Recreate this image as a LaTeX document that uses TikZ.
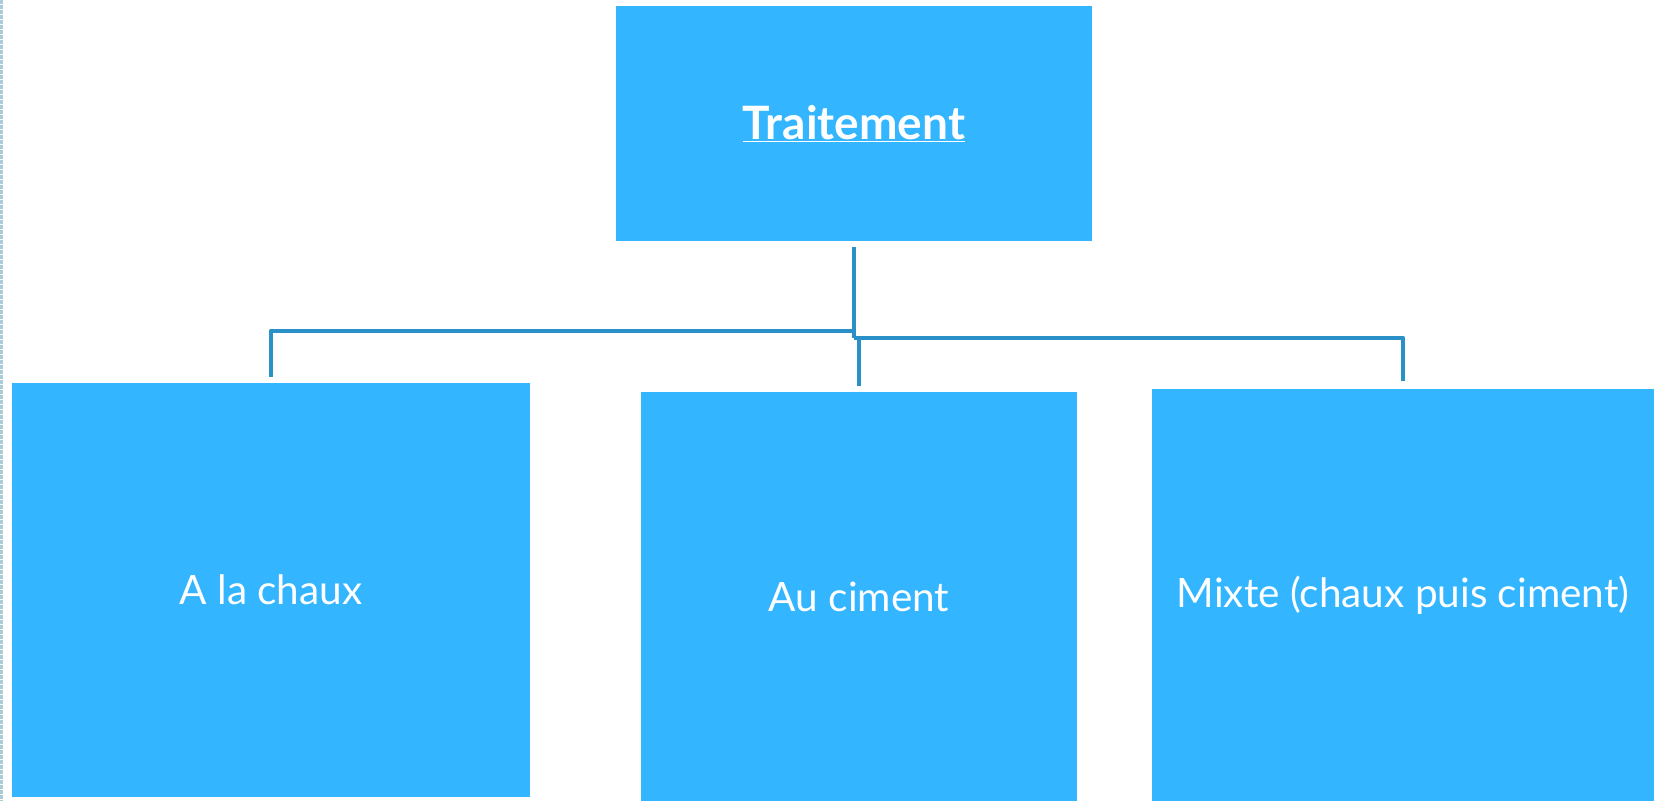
\documentclass[tikz,border=0pt]{standalone}
\usepackage{fontspec}
\setmainfont{Lato}
\definecolor{boxblue}{HTML}{33B5FF}
\definecolor{connblue}{HTML}{2A90C8}
\definecolor{edgegray}{HTML}{A8CCD8}
\begin{document}
\begin{tikzpicture}[x=1pt,y=-1pt,
  box/.style={fill=boxblue, draw=none, inner sep=0pt, text=white, align=center},
  conn/.style={draw=connblue, line width=4.8pt, line join=round},
  lbl/.style={font=\fontsize{40.5}{48}\selectfont}]
\useasboundingbox (0,0) rectangle (1656,801);
\fill[white] (0,0) rectangle (1656,801);
\draw[edgegray, line width=3pt, dash pattern=on 4pt off 1pt] (1.5,0) -- (1.5,801);
\node[box, minimum width=476pt, minimum height=235pt, font=\bfseries\fontsize{46}{54}\selectfont] (top) at (854,123.5) {\underline{Traitement}};
\node[box, lbl, minimum width=518pt, minimum height=414pt] (left) at (271,590) {A la chaux};
\node[box, lbl, minimum width=436pt, minimum height=409pt] (mid) at (859,596.5) {Au ciment};
\node[box, lbl, minimum width=502pt, minimum height=412pt] (right) at (1403,595) {Mixte (chaux puis ciment)};
\coordinate (j1) at (853,331);
\coordinate (j2) at (853,338);
\draw[conn] ([yshift=-6pt]top.south) -- (top.south |- j2);
\draw[conn] (top.south |- j1) -| ([yshift=6pt]left.north);
\draw[conn] (top.south |- j2) -| ([yshift=8pt]right.north);
\draw[conn] (mid.north |- j2) -- ([yshift=6pt]mid.north);
\end{tikzpicture}
\end{document}
